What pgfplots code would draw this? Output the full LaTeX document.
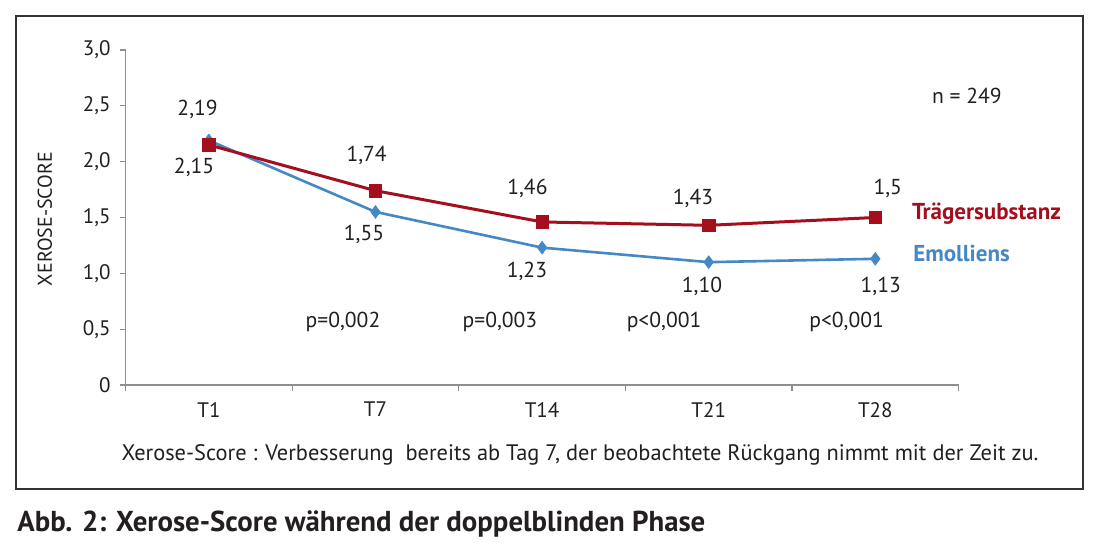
\documentclass[border=0pt]{standalone}
\usepackage{pgfplots}
\pgfplotsset{compat=1.18}
\usepackage{fontspec}
\setmainfont{PT Sans}
\definecolor{redline}{HTML}{A50F1D}
\definecolor{blueline}{HTML}{4588C6}
\definecolor{axgray}{HTML}{8E8E8E}
\definecolor{txt}{HTML}{231F20}
\tikzset{dl/.style={font=\fontsize{10.8}{12}\selectfont, text=txt}}
\begin{document}
\begin{tikzpicture}
\useasboundingbox (-62.8pt,-82pt) rectangle (487.2pt,192.5pt);
\fill[white] (-62.8pt,-82pt) rectangle (487.2pt,192.5pt);
\draw[line width=0.8pt, color=black!80] (-54.8pt,-52pt) rectangle (478.7pt,184.5pt);
\begin{axis}[
  at={(0,0)}, anchor=south west,
  scale only axis, width=416.5pt, height=167.5pt,
  xmin=-0.5, xmax=4.5, ymin=0, ymax=3,
  axis lines*=left,
  axis line style={color=axgray, line width=0.8pt},
  clip=false,
  xtick={0,1,2,3,4},
  xticklabels={T1,T7,T14,T21,T28},
  minor xtick={-0.5,0.5,1.5,2.5,3.5,4.5},
  major x tick style={draw=none},
  minor x tick style={color=axgray, line width=0.6pt},
  minor tick length=3pt,
  ytick={0,0.5,1,1.5,2,2.5,3},
  yticklabels={0,{0,5},{1,0},{1,5},{2,0},{2,5},{3,0}},
  y tick style={color=axgray, line width=0.6pt},
  major tick length=3pt,
  tick align=outside,
  tick label style={font=\fontsize{10.5}{12}\selectfont, color=txt},
  xticklabel style={yshift=-2pt},
  yticklabel style={xshift=-1pt},
]
\addplot[color=blueline, line width=1.3pt, mark=diamond*, mark size=3.2pt, mark options={fill=blueline, draw=blueline, line width=0.3pt}]
  coordinates {(0,2.19) (1,1.55) (2,1.23) (3,1.10) (4,1.13)};
\addplot[color=redline, line width=1.5pt, mark=square*, mark size=3.1pt, mark options={fill=redline, draw=redline, line width=0.3pt}]
  coordinates {(0,2.15) (1,1.74) (2,1.46) (3,1.43) (4,1.5)};
\node[dl] at (axis cs:-0.068,2.469) {2,19};
\node[dl] at (axis cs:-0.089,1.947) {2,15};
\node[dl] at (axis cs:0.947,2.055) {1,74};
\node[dl] at (axis cs:0.931,1.350) {1,55};
\node[dl] at (axis cs:1.912,1.764) {1,46};
\node[dl] at (axis cs:1.909,1.020) {1,23};
\node[dl] at (axis cs:2.906,1.674) {1,43};
\node[dl] at (axis cs:2.960,0.885) {1,10};
\node[dl] at (axis cs:4.075,1.764) {1,5};
\node[dl] at (axis cs:4.033,0.885) {1,13};
\node[dl] at (axis cs:0.805,0.567) {p=0,002};
\node[dl] at (axis cs:1.747,0.567) {p=0,003};
\node[dl] at (axis cs:2.732,0.567) {p<0,001};
\node[dl] at (axis cs:3.828,0.567) {p<0,001};
\node[dl] at (axis cs:4.550,2.592) {n = 249};
\node[anchor=west, inner sep=0pt, text=redline, font=\fontsize{11.5}{13}\bfseries\selectfont] at (axis cs:4.218,1.530) {Trägersubstanz};
\node[anchor=west, inner sep=0pt, text=blueline, font=\fontsize{11.5}{13}\bfseries\selectfont] at (axis cs:4.226,1.179) {Emolliens};
\end{axis}
\node[rotate=90, text=txt, font=\fontsize{10}{11}\selectfont] at (-40.3pt,83pt) {XEROSE-SCORE};
\node[anchor=base, text=txt, inner sep=0pt, font=\fontsize{11.2}{13}\selectfont] at (227.2pt,-38pt) {Xerose-Score : Verbesserung\ \ bereits ab Tag 7, der beobachtete Rückgang nimmt mit der Zeit zu.};
\node[anchor=base west, text=txt, inner sep=0pt, font=\fontsize{14.4}{16}\bfseries\selectfont] at (-54.3pt,-73.2pt) {Abb. 2: Xerose-Score während der doppelblinden Phase};
\end{tikzpicture}
\end{document}
